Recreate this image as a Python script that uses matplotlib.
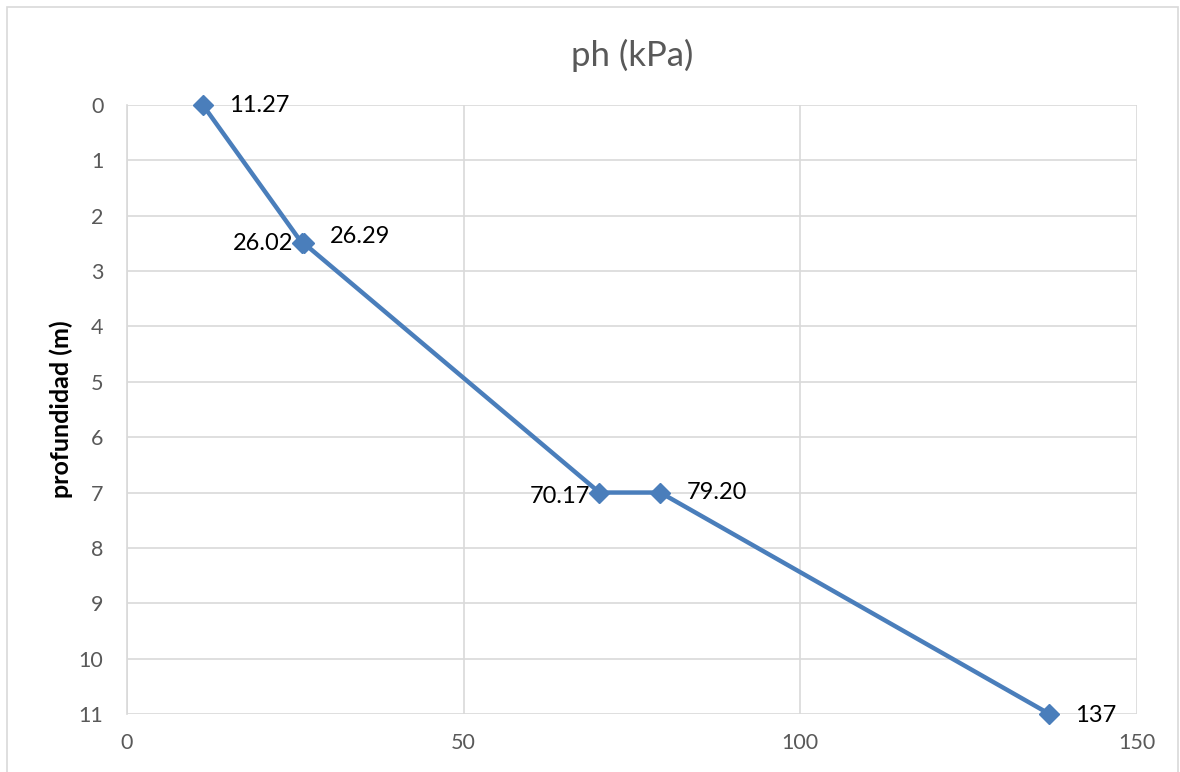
import matplotlib
matplotlib.use("Agg")
import matplotlib.pyplot as plt
from matplotlib.patches import Rectangle

ph = [11.27, 26.02, 26.29, 70.17, 79.20, 137]
depth = [0, 2.5, 2.5, 7, 7, 11]
labels = ["11.27", "26.02", "26.29", "70.17", "79.20", "137"]
label_side = ["right", "left", "right", "left", "right", "right"]
# vertical label offsets in pixels (positive = up)
label_dy = [0, 0, 7, -4, 0, -2]

xticks = [0, 50, 100, 150]
yticks = list(range(0, 12))

plt.rcParams['font.family'] = ['Lato', 'DejaVu Sans']

fig = plt.figure(figsize=(11.8, 7.72), dpi=100)
fig.patches.append(Rectangle((7/1180, -0.01), (1178-7)/1180, 1 - 7/772 + 0.01,
                             transform=fig.transFigure, fill=False,
                             edgecolor="#d9d9d9", linewidth=1.2))
ax = fig.add_axes([127/1180, 1 - 714/772, (1137-127)/1180, (714-105)/772])

blue = "#4a7ebb"
ax.plot(ph, depth, color=blue, linewidth=3.2, marker="D", markersize=10,
        markerfacecolor=blue, markeredgecolor=blue, zorder=3, clip_on=False)

px = 0.72
for x, y, t, s, dy in zip(ph, depth, labels, label_side, label_dy):
    if s == "right":
        ax.annotate(t, (x, y), xytext=(26*px, dy*px), textcoords="offset points",
                    ha="left", va="center", fontsize=17, color="black")
    else:
        ax.annotate(t, (x, y), xytext=(-9*px, dy*px), textcoords="offset points",
                    ha="right", va="center", fontsize=17, color="black")

ax.set_xlim(0, 150)
ax.set_ylim(11, 0)
ax.set_xticks(xticks)
ax.set_yticks(yticks)
ax.grid(True, color="#d9d9d9", linewidth=1.2)
ax.set_axisbelow(True)
for sp in ["top", "right", "bottom"]:
    ax.spines[sp].set_visible(False)
ax.spines["left"].set_color("#d9d9d9")
ax.spines["left"].set_linewidth(1.2)
ax.tick_params(axis="both", length=0, labelsize=15.5, colors="#595959")
ax.tick_params(axis="x", pad=14)
ax.tick_params(axis="y", pad=17)

ax.set_title("ph (kPa)", fontsize=25, color="#595959", pad=28)
ax.set_ylabel("profundidad (m)", fontsize=18, fontweight="bold", color="black", labelpad=4)

fig.savefig("out.png", dpi=100)
